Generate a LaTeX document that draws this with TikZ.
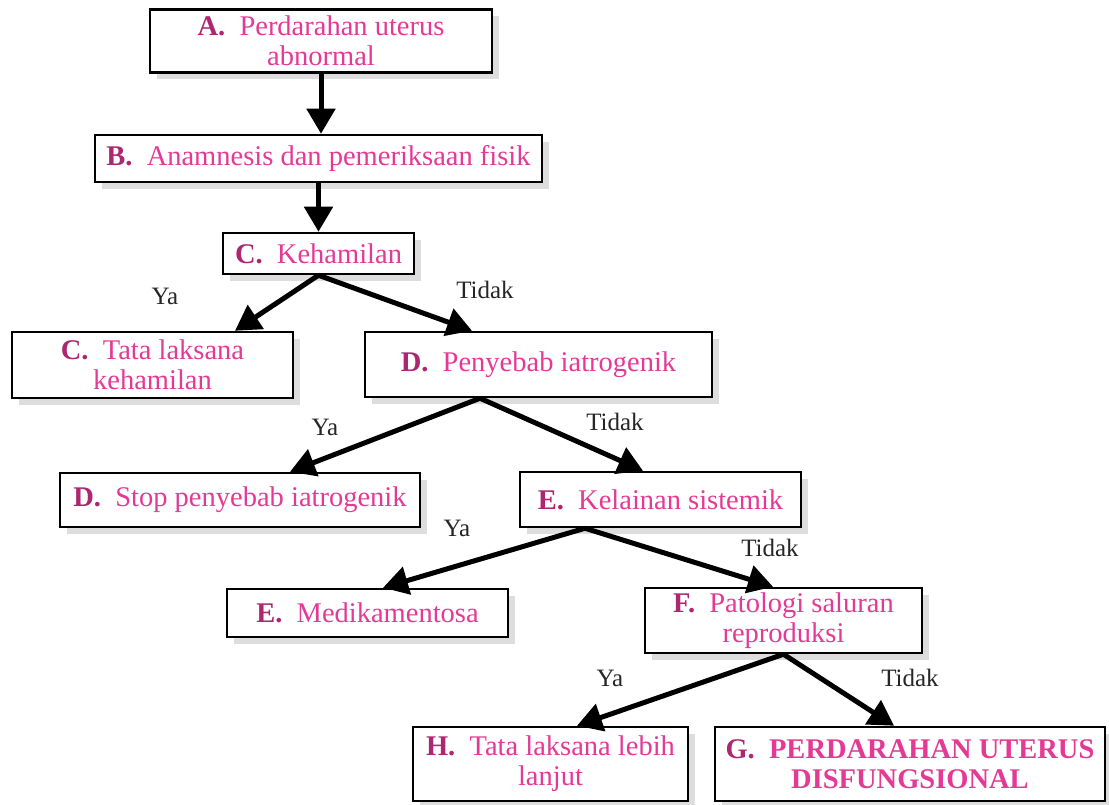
\documentclass[tikz,border=0pt]{standalone}
\usepackage{fontspec}
\setmainfont{Liberation Serif}
\usepackage{tikz}
\usetikzlibrary{arrows.meta,shadows}
\definecolor{pinktext}{RGB}{228,58,150}
\definecolor{pinkletter}{RGB}{172,38,112}
\newcommand{\ltr}[1]{{\color{pinkletter}\bfseries #1}\enspace}

\begin{document}
\begin{tikzpicture}[x=1pt,y=-1pt,
	box/.style={draw,line width=2.5pt,fill=white,align=center,inner sep=0pt,text=pinktext,font=\fontsize{28.5}{30}\selectfont,drop shadow={shadow xshift=7pt,shadow yshift=-7pt,opacity=0.22,fill=black!60}},
	arr/.style={line width=5pt,-{Triangle[length=25pt,width=28pt]}},
	lbl/.style={text=black!85,font=\fontsize{25}{28}\selectfont}]
	\useasboundingbox[fill=white] (0,0) rectangle (1109,805);

	\node (a) at (321,41)[box,minimum width=342pt,minimum height=63pt]{\ltr{A.}Perdarahan uterus\\abnormal};
	\node (b) at (318.5,158.5)[box,minimum width=447pt,minimum height=47pt]{\ltr{B.}Anamnesis dan pemeriksaan fisik};
	\node (c) at (318.5,253.5)[box,minimum width=191pt,minimum height=41pt]{\ltr{C.}Kehamilan};
	\node (ctl) at (152.5,365)[box,minimum width=281pt,minimum height=66pt]{\ltr{C.}Tata laksana\\kehamilan};
	\node (d) at (538.5,364.5)[box,minimum width=347pt,minimum height=65pt]{\ltr{D.}Penyebab iatrogenik};
	\node (dstop) at (240,500)[box,minimum width=360pt,minimum height=54pt]{\ltr{D.}Stop penyebab iatrogenik};
	\node (e) at (660.5,499.5)[box,minimum width=281pt,minimum height=55pt]{\ltr{E.}Kelainan sistemik};
	\node (emed) at (367.5,613)[box,minimum width=281pt,minimum height=48pt]{\ltr{E.}Medikamentosa};
	\node (f) at (783.5,620.5)[box,minimum width=277pt,minimum height=65pt]{\ltr{F.}Patologi saluran\\reproduksi};
	\node (h) at (550.5,764)[box,minimum width=275pt,minimum height=74pt]{\ltr{H.}Tata laksana lebih\\lanjut};
	\node (g) at (910,764)[box,minimum width=390pt,minimum height=74pt,font=\fontsize{28.5}{30}\selectfont\bfseries]{\ltr{G.}PERDARAHAN UTERUS\\DISFUNGSIONAL};

	\draw[arr] (a.south) -- (a.south |- b.north);
	\draw[arr] (b.south -| c.south) -- (c.north);
	\draw[arr] (c.south) -- ([xshift=82.5pt]ctl.north);
	\draw[arr] (c.south) -- ([xshift=-66.5pt]d.north);
	\draw[arr] ([xshift=-58.5pt]d.south) -- ([xshift=50pt]dstop.north);
	\draw[arr] ([xshift=-58.5pt]d.south) -- ([xshift=-17.5pt]e.north);
	\draw[arr] ([xshift=-75.5pt]e.south) -- ([xshift=15.5pt]emed.north);
	\draw[arr] ([xshift=-75.5pt]e.south) -- ([xshift=-10.5pt]f.north);
	\draw[arr] (f.south) -- ([xshift=26.5pt]h.north);
	\draw[arr] (f.south) -- ([xshift=-16pt]g.north);

	\node (ya1) at (165,296)[lbl]{Ya};
	\node (tidak1) at (485,290)[lbl]{Tidak};
	\node (ya2) at (325,427)[lbl]{Ya};
	\node (tidak2) at (615,422)[lbl]{Tidak};
	\node (ya3) at (457,528)[lbl]{Ya};
	\node (tidak3) at (770,548)[lbl]{Tidak};
	\node (ya4) at (610,678)[lbl]{Ya};
	\node (tidak4) at (910,678)[lbl]{Tidak};
\end{tikzpicture}
\end{document}
